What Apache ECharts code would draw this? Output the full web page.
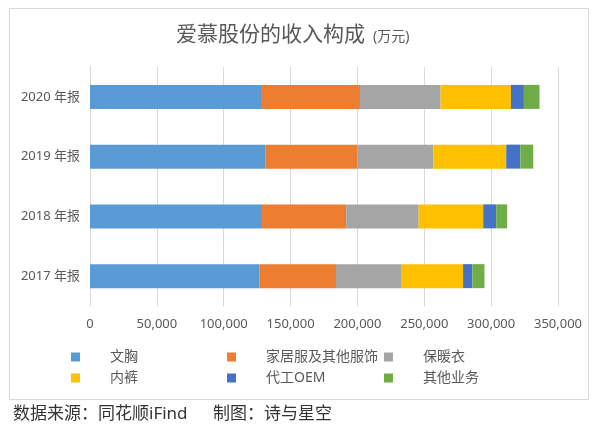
<!DOCTYPE html>
<html>
<head>
<meta charset="utf-8">
<script src="https://cdn.jsdelivr.net/npm/echarts@6/dist/echarts.min.js"></script>
<style>html,body{margin:0;padding:0;background:#fff;}#c{width:600px;height:435px;}</style>
</head>
<body>
<div id="c"></div>
<script>
var categories = ['2017 年报', '2018 年报', '2019 年报', '2020 年报'];
var seriesNames = ['文胸', '家居服及其他服饰', '保暖衣', '内裤', '代工OEM', '其他业务'];
var braValues = [126600, 128600, 131400, 127900];
var homewearValues = [57400, 63000, 68500, 74000];
var thermalValues = [48600, 54200, 56800, 60300];
var underpantsValues = [46400, 48300, 54600, 52600];
var oemValues = [7000, 9700, 10500, 9700];
var otherValues = [9000, 8200, 9700, 11700];
var xTicks = [0, 50000, 100000, 150000, 200000, 250000, 300000, 350000];
var colors = ['#5B9BD5', '#ED7D31', '#A5A5A5', '#FFC000', '#4472C4', '#70AD47'];

var allValues = [braValues, homewearValues, thermalValues, underpantsValues, oemValues, otherValues];
var font = '"Noto Sans", "Noto Sans CJK SC", sans-serif';

var chart = echarts.init(document.getElementById('c'), null, {renderer: 'canvas'});

var series = seriesNames.map(function (n, i) {
  return {
    name: n, type: 'bar', stack: 'total', barWidth: 24,
    itemStyle: {color: colors[i]},
    data: allValues[i]
  };
});

var legendPos = [[71, 350], [227, 350], [384, 350], [71, 371], [227, 371], [384, 371]];
var legends = seriesNames.map(function (n, i) {
  return {
    data: [n], left: legendPos[i][0], top: legendPos[i][1],
    itemWidth: 9, itemHeight: 9, icon: 'rect', padding: 0,
    textStyle: {color: '#595959', fontSize: 14, fontFamily: font, padding: [0, 0, 0, 25]}
  };
});

chart.setOption({
  animation: false,
  backgroundColor: '#fff',
  color: colors,
  title: {
    text: '爱慕股份的收入构成{s|(万元)}',
    left: 171, top: 20,
    textStyle: {
      color: '#595959', fontSize: 21, fontWeight: 'normal', fontFamily: font,
      rich: {s: {fontSize: 14, color: '#595959', fontFamily: font, padding: [3, 0, 0, 8]}}
    }
  },
  legend: legends,
  grid: {left: 90, right: 42, top: 67, bottom: 129, containLabel: false},
  xAxis: {
    type: 'value', min: xTicks[0], max: xTicks[xTicks.length - 1], interval: 50000,
    axisLine: {show: false}, axisTick: {show: false},
    splitLine: {lineStyle: {color: '#d9d9d9', width: 1}},
    axisLabel: {
      color: '#595959', fontSize: 13, fontFamily: font, margin: 12,
      formatter: function (v) { return v.toLocaleString('en-US'); }
    }
  },
  yAxis: {
    type: 'category', data: categories,
    axisLine: {show: true, lineStyle: {color: '#d9d9d9'}},
    axisTick: {show: false},
    axisLabel: {color: '#595959', fontSize: 13, fontFamily: font, margin: 10}
  },
  series: series,
  graphic: [
    {type: 'rect', shape: {x: 9.5, y: 8.5, width: 579, height: 391}, style: {fill: 'none', stroke: '#d9d9d9', lineWidth: 1}, z: -1},
    {type: 'text', left: 13, top: 406, style: {text: '数据来源：同花顺iFind', fill: '#333', fontSize: 17, fontFamily: font}},
    {type: 'text', left: 213, top: 406, style: {text: '制图：诗与星空', fill: '#333', fontSize: 17, fontFamily: font}}
  ]
});
</script>
</body>
</html>
